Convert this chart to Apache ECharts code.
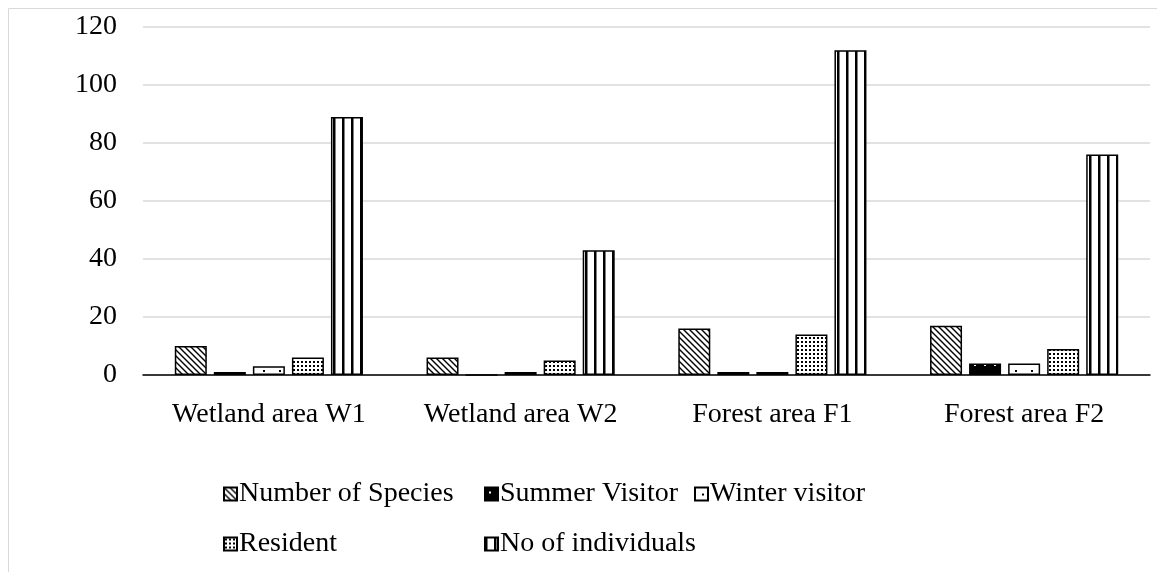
<!DOCTYPE html>
<html>
<head>
<meta charset="utf-8">
<script src="https://cdn.jsdelivr.net/npm/echarts@6/dist/echarts.min.js"></script>
<style>
  html, body { margin: 0; padding: 0; background: #fff; }
  #chart { width: 1157px; height: 572px; }
</style>
</head>
<body>
<div id="chart"></div>
<script>
// Bird survey counts per study area
const categories = ['Wetland area W1', 'Wetland area W2', 'Forest area F1', 'Forest area F2'];
const seriesNames = ['Number of Species', 'Summer Visitor', 'Winter visitor', 'Resident', 'No of individuals'];
const numberOfSpecies = [10, 6, 16, 17];
const summerVisitor = [1, 0, 1, 4];
const winterVisitor = [3, 1, 1, 4];
const resident = [6, 5, 14, 9];
const noOfIndividuals = [89, 43, 112, 76];
const yTicks = [0, 20, 40, 60, 80, 100, 120];

const FONT = '"Liberation Serif", "Times New Roman", serif';

// Monochrome fill patterns built on small canvas tiles
function tile(w, h, draw) {
  const c = document.createElement('canvas');
  c.width = w; c.height = h;
  const g = c.getContext('2d');
  draw(g, w, h);
  return { image: c, repeat: 'repeat' };
}
const patterns = [
  // diagonal hatching
  tile(6, 6, (g, w, h) => {
    g.fillStyle = '#fff'; g.fillRect(0, 0, w, h);
    g.strokeStyle = '#000'; g.lineWidth = 1.4;
    g.beginPath();
    g.moveTo(-1, -1); g.lineTo(w + 1, h + 1);
    g.moveTo(-1, h - 1); g.lineTo(1, h + 1);
    g.moveTo(w - 1, -1); g.lineTo(w + 1, 1);
    g.stroke();
  }),
  // black with sparse white dots
  tile(10, 10, (g, w, h) => {
    g.fillStyle = '#000'; g.fillRect(0, 0, w, h);
    g.fillStyle = '#fff'; g.fillRect(4, 4, 2, 2);
  }),
  // white with sparse black dots
  tile(16, 14, (g, w, h) => {
    g.fillStyle = '#fff'; g.fillRect(0, 0, w, h);
    g.fillStyle = '#000'; g.fillRect(7, 6, 2, 2);
  }),
  // dense dot grid
  tile(4, 4, (g, w, h) => {
    g.fillStyle = '#fff'; g.fillRect(0, 0, w, h);
    g.fillStyle = '#000'; g.fillRect(1, 1, 2, 2);
  }),
  // vertical stripes
  tile(9, 9, (g, w, h) => {
    g.fillStyle = '#fff'; g.fillRect(0, 0, w, h);
    g.fillStyle = '#000'; g.fillRect(0, 0, 2.5, h);
  })
];

const seriesData = [numberOfSpecies, summerVisitor, winterVisitor, resident, noOfIndividuals];

const chart = echarts.init(document.getElementById('chart'), null, { renderer: 'canvas' });

// legend boxes include the default 5px padding
const legendPos = [
  { left: 218, top: 475 },
  { left: 479, top: 475 },
  { left: 689, top: 475 },
  { left: 218, top: 525 },
  { left: 479, top: 525 }
];

chart.setOption({
  animation: false,
  backgroundColor: '#fff',
  graphic: [{
    type: 'rect',
    shape: { x: 8.5, y: 8.5, width: 1200, height: 600 },
    style: { fill: 'none', stroke: '#d9d9d9', lineWidth: 1 },
    silent: true
  }],
  legend: seriesNames.map((name, i) => ({
    data: [name],
    left: legendPos[i].left,
    top: legendPos[i].top,
    icon: 'rect',
    itemWidth: 13,
    itemHeight: 13,
    itemGap: 0,
    textStyle: { fontFamily: FONT, fontSize: 28, color: '#000', padding: [0, 0, 0, -3] }
  })),
  grid: { left: 143, right: 7, top: 27, bottom: 197 },
  xAxis: {
    type: 'category',
    data: categories,
    axisLine: { lineStyle: { color: '#000', width: 1.5 } },
    axisTick: { show: false },
    axisLabel: { interval: 0, fontFamily: FONT, fontSize: 28, color: '#000', margin: 26 }
  },
  yAxis: {
    type: 'value',
    min: 0,
    max: yTicks[yTicks.length - 1],
    interval: yTicks[1] - yTicks[0],
    axisLine: { show: false },
    axisTick: { show: false },
    splitLine: { lineStyle: { color: '#d9d9d9', width: 1.5 } },
    axisLabel: { fontFamily: FONT, fontSize: 28, color: '#000', margin: 26 }
  },
  series: seriesNames.map((name, i) => ({
    name: name,
    type: 'bar',
    data: seriesData[i],
    barWidth: 32,
    barGap: '22%',
    itemStyle: {
      color: patterns[i],
      borderColor: '#000',
      borderWidth: 1.5
    }
  }))
});
</script>
</body>
</html>
